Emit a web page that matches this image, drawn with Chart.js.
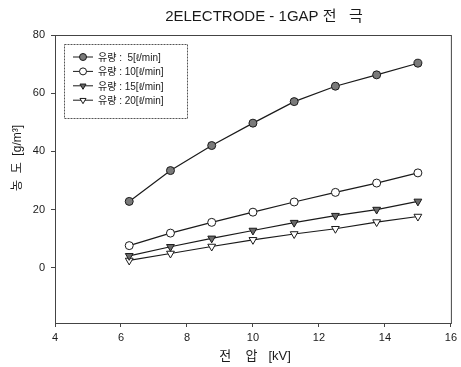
<!DOCTYPE html>
<html>
<head>
<meta charset="utf-8">
<script src="https://cdn.jsdelivr.net/npm/chart.js@4/dist/chart.umd.min.js"></script>
<style>
  html, body { margin: 0; padding: 0; background: #fff; }
  #wrap { width: 461px; height: 367px; }
</style>
</head>
<body>
<div id="wrap"><canvas id="chart" width="461" height="367"></canvas></div>
<script>
// ---- data ----
const voltage = [6.25, 7.5, 8.75, 10, 11.25, 12.5, 13.75, 15];
const flow5  = [22.8, 33.4, 42.0, 49.7, 57.1, 62.4, 66.3, 70.3];
const flow10 = [7.6, 11.9, 15.6, 19.1, 22.6, 25.9, 29.1, 32.6];
const flow15 = [4.1, 7.2, 10.1, 12.8, 15.5, 17.9, 20.0, 22.8];
const flow20 = [2.5, 4.9, 7.3, 9.6, 11.6, 13.4, 15.7, 17.6];
const seriesLabels = ['유량 :  5[ℓ/min]', '유량 : 10[ℓ/min]', '유량 : 15[ℓ/min]', '유량 : 20[ℓ/min]'];
const xTicks = [4, 6, 8, 10, 12, 14, 16];
const yTicks = [0, 20, 40, 60, 80];

const FONT = "Arial, 'Liberation Sans', 'Noto Sans CJK KR', sans-serif";
const INK = '#1a1a1a';

function toPoints(ys) {
    return voltage.map((x, i) => ({ x: x, y: ys[i] }));
}

const styles = [
    { pointStyle: 'circle',   fill: '#7a7a7a', rot: 0 },
    { pointStyle: 'circle',   fill: '#ffffff', rot: 0 },
    { pointStyle: 'triangle', fill: '#6a6a6a', rot: 180 },
    { pointStyle: 'triangle', fill: '#ffffff', rot: 180 }
];

const datasets = [flow5, flow10, flow15, flow20].map((ys, i) => ({
    label: seriesLabels[i],
    data: toPoints(ys),
    borderColor: INK,
    borderWidth: 1.2,
    pointStyle: styles[i].pointStyle,
    pointRotation: styles[i].rot,
    pointRadius: styles[i].pointStyle === 'circle' ? 4 : 4.5,
    pointBackgroundColor: styles[i].fill,
    pointBorderColor: INK,
    pointBorderWidth: 1,
    tension: 0
}));

// frame, titles and legend box drawn on top of the chart
const decorPlugin = {
    id: 'decor',
    afterDraw(chart) {
        const ctx = chart.ctx;
        const a = chart.chartArea;
        ctx.save();

        // plot frame
        ctx.strokeStyle = '#444';
        ctx.lineWidth = 1;
        ctx.strokeRect(a.left + 0.5, a.top + 0.5, a.right - a.left, a.bottom - a.top);

        // main title
        ctx.fillStyle = INK;
        ctx.font = '15px ' + FONT;
        ctx.textAlign = 'center';
        ctx.textBaseline = 'middle';
        ctx.fillText('2ELECTRODE - 1GAP 전   극', 264, 17);

        // y axis title
        ctx.save();
        ctx.translate(18, 158);
        ctx.rotate(-Math.PI / 2);
        ctx.font = '12px ' + FONT;
        ctx.fillText('농  도  [g/m³]', 0, 0);
        ctx.restore();

        // x axis title
        ctx.font = '13px ' + FONT;
        ctx.fillText('전    압   [kV]', 255, 356);

        // legend box
        const bx = 64, by = 44, bw = 123, bh = 74;
        ctx.setLineDash([2, 1]);
        ctx.strokeStyle = '#555';
        ctx.strokeRect(bx + 0.5, by + 0.5, bw, bh);
        ctx.setLineDash([]);

        ctx.font = '10px ' + FONT;
        ctx.textAlign = 'left';
        chart.data.datasets.forEach((ds, i) => {
            const y = 57 + i * 14.4;
            ctx.strokeStyle = INK;
            ctx.lineWidth = 1;
            ctx.beginPath();
            ctx.moveTo(73, y);
            ctx.lineTo(93, y);
            ctx.stroke();
            ctx.fillStyle = ds.pointBackgroundColor;
            ctx.strokeStyle = INK;
            Chart.helpers.drawPoint(ctx, {
                pointStyle: ds.pointStyle,
                rotation: ds.pointRotation,
                radius: 3.5,
                borderWidth: 1
            }, 83, y);
            ctx.fillStyle = INK;
            ctx.fillText(ds.label, 98, y + 1);
        });

        ctx.restore();
    }
};

new Chart(document.getElementById('chart'), {
    type: 'line',
    data: { datasets: datasets },
    options: {
        responsive: false,
        animation: false,
        layout: { padding: { top: 35, right: 9, left: 0, bottom: 0 } },
        plugins: {
            legend: { display: false },
            tooltip: { enabled: false }
        },
        scales: {
            x: {
                type: 'linear',
                min: 4,
                max: 16,
                afterFit: s => { s.height = 44; },
                afterBuildTicks: s => { s.ticks = xTicks.map(v => ({ value: v })); },
                grid: { drawOnChartArea: false, tickLength: 4, color: '#444' },
                border: { color: '#444' },
                ticks: { color: INK, font: { family: FONT, size: 11 }, padding: 4, maxRotation: 0 }
            },
            y: {
                type: 'linear',
                min: -19,
                max: 80,
                afterFit: s => { s.width = 55; },
                afterBuildTicks: s => { s.ticks = yTicks.map(v => ({ value: v })); },
                grid: { drawOnChartArea: false, tickLength: 4, color: '#444' },
                border: { color: '#444' },
                ticks: { color: INK, font: { family: FONT, size: 11 }, padding: 6 }
            }
        }
    },
    plugins: [decorPlugin]
});
</script>
</body>
</html>
